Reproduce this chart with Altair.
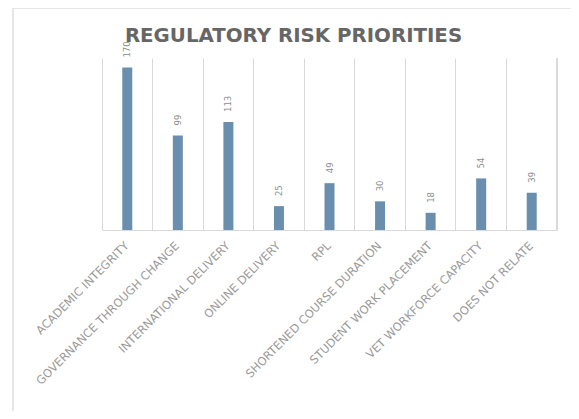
import altair as alt
import pandas as pd

title_text = "REGULATORY RISK PRIORITIES"
categories = [
    "ACADEMIC INTEGRITY",
    "GOVERNANCE THROUGH CHANGE",
    "INTERNATIONAL DELIVERY",
    "ONLINE DELIVERY",
    "RPL",
    "SHORTENED COURSE DURATION",
    "STUDENT WORK PLACEMENT",
    "VET WORKFORCE CAPACITY",
    "DOES NOT RELATE",
]
values = [170, 99, 113, 25, 49, 30, 18, 54, 39]

df = pd.DataFrame({"category": categories, "value": values})
tdf = pd.DataFrame({"t": [title_text]})

W, H = 455, 172
x_enc = alt.X(
    "category:N",
    sort=categories,
    scale=alt.Scale(paddingInner=0, paddingOuter=0),
    axis=alt.Axis(
        title=None,
        labelAngle=-45,
        labelAlign="right",
        labelBaseline="middle",
        labelPadding=14,
        labelFont="DejaVu Sans",
        labelFontSize=11.5,
        labelColor="#9a9a9a",
        labelLimit=300,
        ticks=False,
        grid=True,
        bandPosition=0,
        gridColor="#d9d9d9",
        domainColor="#d9d9d9",
    ),
)
y_enc = alt.Y("value:Q", scale=alt.Scale(domain=[0, 180]), axis=None)

bars = alt.Chart(df).mark_bar(size=10, color="#6a8fae").encode(x=x_enc, y=y_enc)
labels = alt.Chart(df).mark_text(
    angle=270, align="left", baseline="middle", dx=10,
    font="DejaVu Sans", fontSize=8.5, color="#8c8c8c",
).encode(x=x_enc, y=y_enc, text="value:Q")

title = alt.Chart(tdf).mark_text(
    font="DejaVu Sans", fontSize=19.8, fontWeight="bold", color="#666666",
    align="center", baseline="alphabetic",
).encode(text="t:N", x=alt.value(191.5), y=alt.value(-16))

right_edge = alt.Chart(df).mark_rule(color="#d9d9d9").encode(
    x=alt.value(W), y=alt.value(0), y2=alt.value(H)
)
frame_left = alt.Chart(df).mark_rule(color="#e6e6e6", strokeWidth=2).encode(
    x=alt.value(-89), y=alt.value(-50), y2=alt.value(361)
)
frame_top = alt.Chart(df).mark_rule(color="#e6e6e6", strokeWidth=2).encode(
    x=alt.value(-89), x2=alt.value(471), y=alt.value(-50)
)
outer_left = alt.Chart(df).mark_rule(color="#ececec", strokeWidth=2).encode(
    x=alt.value(-98), y=alt.value(-58), y2=alt.value(361)
)

chart = alt.layer(
    frame_left, frame_top, outer_left, right_edge, bars, labels, title
).properties(
    width=W,
    height=H,
    autosize=alt.AutoSizeParams(type="none"),
    padding={"left": 94, "top": 50, "right": 14, "bottom": 181},
).configure_view(stroke=None)

chart.save("out.html", embed_options={"renderer": "svg", "actions": False})
